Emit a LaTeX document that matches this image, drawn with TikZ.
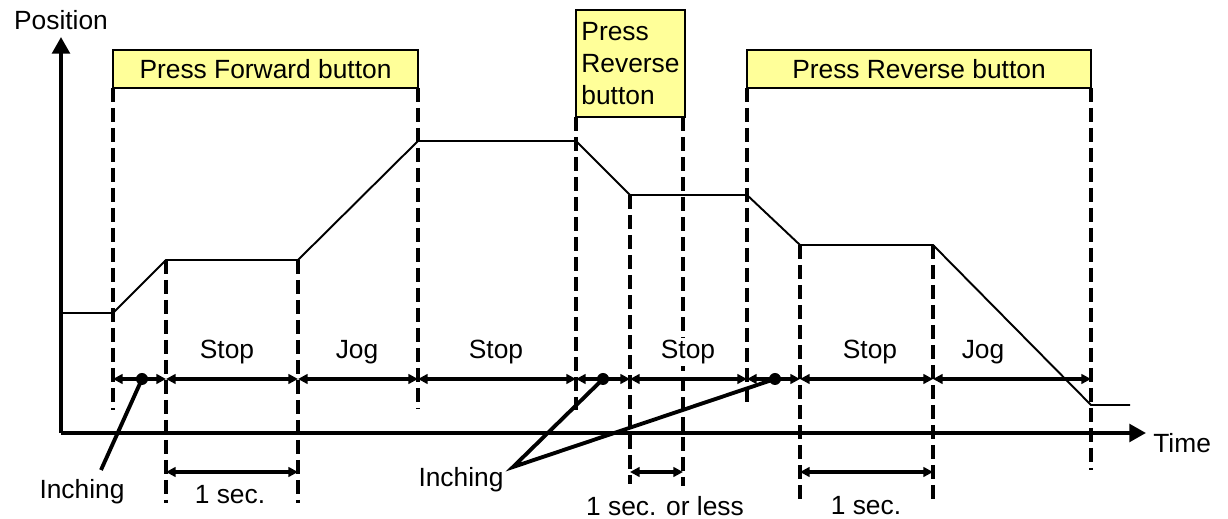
\documentclass[tikz,border=0pt]{standalone}
\usepackage{fontspec}
\setmainfont{Liberation Sans}
\usepackage{xcolor}
\usetikzlibrary{arrows.meta,positioning}
\definecolor{btnyellow}{HTML}{FFFF99}

\begin{document}
\begin{tikzpicture}[x=0.02cm,y=-0.02cm,
  font=\fontsize{15}{18.2}\selectfont,
  btn/.style={draw,fill=btnyellow,line width=1.1pt,inner sep=1pt},
  vline/.style={line width=2.2pt,dash pattern=on 0.28cm off 0.12cm},
  axis/.style={line width=2.2pt,-{Triangle[length=9.5pt,width=10pt]}},
  span/.style={line width=2.2pt,
               {Triangle[length=5.5pt,width=5.5pt]}-{Triangle[length=5.5pt,width=5.5pt]}},
  traj/.style={line width=1.1pt},
  lead/.style={line width=2.2pt},
  dot/.style={circle,fill,inner sep=0pt,minimum size=0.24cm},
  lab/.style={fill=white,inner sep=1pt}]
  \useasboundingbox (0,0) rectangle (1228,519);
  % buttons
  \node[btn,minimum width=6.1cm,minimum height=0.76cm] (fwd) at (265.5,69)
    {Press Forward button};
  \node[btn,minimum width=2.18cm,minimum height=2.14cm,align=left] (revs) at (630.5,63.5)
    {Press\\Reverse\\button};
  \node[btn,minimum width=6.88cm,minimum height=0.76cm] (revl) at (919,69)
    {Press Reverse button};
  % labels of the phases
  \node[lab] (stop1) at (227,352) {Stop};
  \node[lab] (jog1) at (357,352) {Jog};
  \node[lab] (stop2) at (496,352) {Stop};
  \node[lab] (stop3) at (688,352) {Stop};
  \node[lab] (stop4) at (870,352) {Stop};
  \node[lab] (jog2) at (983,352) {Jog};
  % vertical dashed markers
  \foreach \n/\x/\a/\b in {1/113/88/410, 2/166/260/503, 3/298/260/503,
                           4/418/88/408, 5/576/117/410, 6/630/195/484,
                           7/683/117/486, 8/747/88/405, 9/800/245/500,
                           10/933/245/500, 11/1091/88/470} {
    \coordinate (t\n) at (\x,\a);
    \coordinate (b\n) at (\x,\b);
    \coordinate (r\n) at (\x,379);
    \coordinate (q\n) at (\x,472);
    \draw[vline] (t\n) -- (b\n);
  }
  \node[lab] at (stop3) {Stop};
  % axes
  \coordinate (o) at (61,433);
  \coordinate (ytop) at (61,37);
  \coordinate (xend) at (1146,433);
  \draw[axis] (o) -- (ytop);
  \draw[axis] (o) -- (xend);
  \node (pos) at (61,20) {Position};
  \node[anchor=west,inner sep=0pt] (time) at (1153,443) {Time};
  % position curve
  \coordinate (p0) at (61,313);
  \coordinate (p1) at (113,313);
  \coordinate (p2) at (166,260);
  \coordinate (p3) at (298,260);
  \coordinate (p4) at (418,141);
  \coordinate (p5) at (576,141);
  \coordinate (p6) at (630,195);
  \coordinate (p7) at (747,195);
  \coordinate (p8) at (800,245);
  \coordinate (p9) at (933,245);
  \coordinate (p10) at (1091,405);
  \coordinate (p11) at (1130,405);
  \draw[traj] (p0) -- (p1) -- (p2) -- (p3) -- (p4) -- (p5) -- (p6) -- (p7)
    -- (p8) -- (p9) -- (p10) -- (p11);
  % phase spans
  \draw[span] (r1) -- (r2);
  \draw[span] (r2) -- (r3);
  \draw[span] (r3) -- (r4);
  \draw[span] (r4) -- (r5);
  \draw[span] (r5) -- (r6);
  \draw[span] (r6) -- (r8);
  \draw[span] (r8) -- (r9);
  \draw[span] (r9) -- (r10);
  \draw[span] (r10) -- (r11);
  % inching
  \node[dot] (d1) at (142,379) {};
  \node[dot] (d2) at (603,379) {};
  \node[dot] (d3) at (775,379) {};
  \node (inch1) at (82,492) {Inching};
  \node (inch2) at (461,480) {Inching};
  \coordinate (e1) at (101,470);
  \coordinate (e2) at (513,467);
  \draw[lead] (d1.center) -- (e1);
  \draw[lead] (d2.center) -- (e2) -- (d3.center);
  % durations
  \draw[span] (q2) -- (q3);
  \draw[span] (q6) -- (q7);
  \draw[span] (q9) -- (q10);
  \node (sec1) at (230,495) {1 sec.};
  \node (sec2) at (665,506) {1 sec. or less};
  \node (sec3) at (866,506) {1 sec.};
\end{tikzpicture}
\end{document}
